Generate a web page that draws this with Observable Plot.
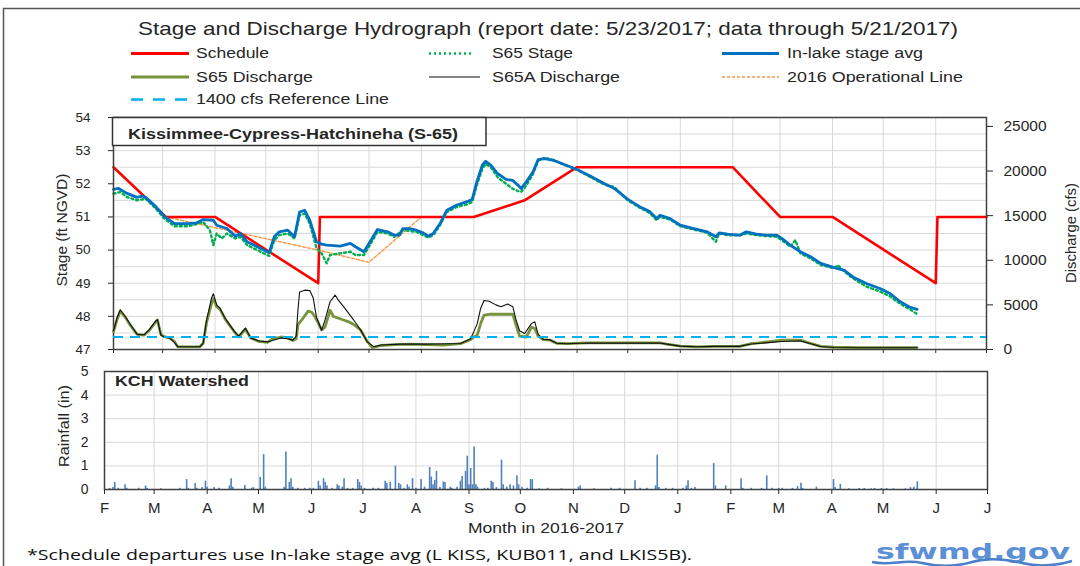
<!DOCTYPE html>
<html><head><meta charset="utf-8">
<script src="https://cdn.jsdelivr.net/npm/d3@7"></script>
<script src="https://cdn.jsdelivr.net/npm/@observablehq/plot@0.6"></script>
<style>
html,body{margin:0;padding:0;background:#fff;}
#page{position:relative;width:1080px;height:566px;overflow:hidden;background:#fff;font-family:"Liberation Sans",Arial,sans-serif;}
#page > svg{position:absolute;left:0;}
</style></head>
<body><div id="page"></div>
<script>
// ---------------- DATA (x = days after 2016-02-01) ----------------
const startDate = "2016-02-01";
const endDate = "2017-07-01";
const monthTickDates = ["2016-02-01","2016-03-01","2016-04-01","2016-05-01","2016-06-01","2016-07-01","2016-08-01","2016-09-01","2016-10-01","2016-11-01","2016-12-01","2017-01-01","2017-02-01","2017-03-01","2017-04-01","2017-05-01","2017-06-01","2017-07-01"];
const monthLabels = ["F","M","A","M","J","J","A","S","O","N","D","J","F","M","A","M","J","J"];
const stageTicks = [47,48,49,50,51,52,53,54];
const stageGrid = [47.5,48,48.5,49,49.5,50,50.5,51,51.5,52,52.5,53,53.5];
const dischargeTicks = [0,5000,10000,15000,20000,25000];
const rainTicks = [0,1,2,3,4,5];
const refCfs = 1400;

const schedule = [[0,52.5],[31,51.0],[60,51.0],[121,49.0],[122,51.0],[213,51.0],[243,51.5],[274,52.5],[366,52.5],[394,51.0],[425,51.0],[486,49.0],[487,51.0],[516,51.0]];
const operational2016 = [[31,51.0],[121,50.0],[151,49.63],[182,51.0]];

const inlakeStage = [[0,51.83],[3,51.86],[8,51.71],[14,51.59],[17,51.63],[19,51.59],[25,51.31],[30,51.02],[36,50.80],[44,50.80],[49,50.82],[53,50.92],[59,50.90],[61,50.75],[67,50.65],[72,50.42],[75,50.50],[79,50.25],[85,50.10],[92,49.92],[95,50.40],[98,50.55],[103,50.60],[107,50.40],[110,51.15],[113,51.20],[116,50.90],[120,50.25],[123,50.18],[126,50.15],[134,50.12],[140,50.2],[143,50.1],[148,49.95],[151,50.2],[156,50.62],[162,50.55],[166,50.45],[169,50.45],[171,50.65],[175,50.65],[179,50.6],[183,50.52],[186,50.42],[189,50.5],[193,50.8],[197,51.2],[203,51.36],[209,51.46],[212,51.53],[215,52.1],[218,52.56],[220,52.68],[223,52.56],[227,52.31],[232,52.13],[236,52.1],[239,51.96],[241,51.86],[244,52.06],[248,52.36],[251,52.73],[255,52.76],[260,52.71],[266,52.59],[274,52.43],[282,52.23],[290,52.01],[296,51.86],[304,51.53],[311,51.31],[317,51.16],[321,50.95],[323,51.05],[329,50.95],[335,50.75],[343,50.65],[351,50.55],[356,50.4],[358,50.52],[363,50.48],[370,50.45],[374,50.55],[380,50.48],[386,50.45],[392,50.45],[395,50.35],[400,50.15],[406,49.95],[412,49.8],[418,49.6],[426,49.47],[432,49.39],[437,49.19],[445,48.99],[453,48.84],[459,48.69],[465,48.44],[471,48.27],[475,48.21]];

const s65Stage = [[0,51.7],[4,51.75],[8,51.6],[14,51.5],[19,51.55],[25,51.25],[30,50.95],[36,50.72],[44,50.72],[49,50.78],[53,50.85],[57,50.6],[59,50.15],[61,50.5],[64,50.35],[67,50.5],[72,50.35],[75,50.4],[79,50.15],[85,50.0],[92,49.82],[95,50.3],[98,50.45],[103,50.5],[107,50.35],[110,51.05],[113,51.1],[116,50.8],[120,50.05],[123,49.9],[126,49.6],[128,49.85],[134,49.9],[140,49.95],[143,49.85],[148,49.85],[151,50.1],[156,50.55],[162,50.5],[166,50.4],[171,50.6],[179,50.55],[186,50.38],[189,50.45],[193,50.75],[197,51.15],[203,51.3],[209,51.38],[212,51.45],[215,52.0],[218,52.45],[220,52.6],[223,52.5],[227,52.2],[232,52.0],[236,51.85],[239,51.78],[241,51.76],[244,51.95],[248,52.3],[251,52.7],[255,52.78],[260,52.72],[266,52.58],[274,52.42],[282,52.2],[290,51.98],[296,51.9],[304,51.5],[311,51.28],[317,51.12],[321,50.9],[323,51.0],[329,50.92],[335,50.72],[343,50.62],[351,50.52],[356,50.25],[358,50.5],[363,50.45],[370,50.44],[374,50.5],[380,50.45],[386,50.42],[392,50.4],[395,50.3],[400,50.1],[403,50.3],[406,49.9],[412,49.75],[418,49.55],[426,49.45],[428,49.55],[432,49.35],[437,49.15],[445,48.9],[453,48.75],[459,48.6],[465,48.38],[471,48.2],[475,48.07]];

const s65Discharge = [[0,2000],[2,3300],[4,4300],[7,3600],[10,2700],[14,1700],[18,1600],[21,2100],[25,3100],[26,3300],[28,1700],[30,1450],[33,1300],[36,900],[38,300],[45,300],[51,300],[53,700],[55,3000],[58,5200],[59,5700],[61,4800],[63,4500],[66,3400],[71,2100],[74,1400],[78,2300],[81,1300],[86,900],[91,800],[94,1200],[99,1400],[103,1300],[106,1000],[108,1200],[109,2800],[112,3500],[115,4300],[117,4200],[119,3700],[121,3000],[123,2200],[125,2500],[128,4400],[130,3700],[133,3500],[136,3300],[139,3100],[142,2800],[146,2200],[150,900],[153,200],[158,450],[166,550],[175,600],[185,550],[195,500],[205,650],[211,1100],[213,1400],[215,1600],[217,2900],[219,3850],[222,3950],[229,3950],[236,3950],[238,2700],[240,1500],[244,1400],[247,2500],[249,2350],[251,1500],[254,1100],[258,1050],[262,700],[268,650],[280,750],[300,750],[323,750],[327,600],[335,380],[345,300],[355,350],[370,350],[377,650],[389,900],[395,1050],[406,1050],[410,800],[418,350],[426,250],[441,220],[475,220]];

const s65aDischarge = [[0,2100],[2,3500],[4,4450],[7,3700],[10,2800],[14,1700],[18,1650],[21,2200],[25,3200],[26,3350],[28,1600],[30,1400],[33,1300],[36,800],[38,300],[45,300],[51,300],[53,700],[55,3300],[58,5800],[59,6250],[61,5000],[63,4600],[66,3500],[71,2150],[74,1500],[78,2400],[81,1300],[86,950],[91,850],[94,1000],[99,1300],[103,1200],[106,1050],[108,1500],[109,4400],[110,6450],[113,6650],[116,6600],[118,5800],[120,3600],[123,2150],[125,3300],[128,5350],[131,6100],[133,5500],[136,4800],[139,4050],[142,3300],[146,2200],[150,850],[154,300],[158,500],[170,600],[185,600],[205,670],[211,1200],[213,2000],[215,2900],[217,4600],[219,5500],[222,5400],[226,5000],[229,4800],[233,5100],[236,4800],[238,3300],[240,2100],[243,1800],[247,2900],[249,3100],[251,1700],[254,1150],[258,1100],[262,700],[268,650],[280,720],[300,720],[323,720],[327,600],[335,380],[345,300],[355,350],[370,350],[377,620],[389,800],[395,900],[406,950],[410,750],[418,330],[426,220],[441,200],[475,200]];

const rainfall = [[3,0.05],[5,0.08],[6,0.3],[8,0.05],[12,0.2],[13,0.05],[20,0.05],[24,0.15],[25,0.05],[33,0.03],[44,0.05],[48,0.42],[49,0.05],[53,0.25],[54,0.05],[57,0.08],[59,0.35],[60,0.1],[64,0.08],[67,0.05],[73,0.15],[74,0.46],[75,0.1],[82,0.17],[86,0.05],[87,0.08],[91,0.51],[93,1.48],[94,0.1],[105,0.1],[106,1.59],[108,0.3],[109,0.46],[110,0.1],[113,0.05],[117,0.05],[120,0.05],[122,0.05],[125,0.35],[126,0.15],[128,0.46],[129,0.3],[130,0.15],[133,0.05],[136,0.2],[137,0.15],[139,0.1],[140,0.46],[142,0.05],[145,0.05],[148,0.42],[149,0.3],[150,0.15],[152,0.05],[157,0.05],[160,0.05],[164,0.35],[165,0.25],[167,0.3],[170,0.99],[172,0.25],[173,0.2],[175,0.05],[177,0.2],[178,0.1],[180,0.46],[182,0.05],[185,0.42],[187,0.1],[190,0.93],[191,0.53],[192,0.2],[193,0.39],[194,0.77],[196,0.1],[198,0.32],[199,0.3],[202,0.1],[203,0.05],[206,0.1],[208,0.35],[209,0.55],[211,0.77],[212,1.41],[213,0.2],[214,0.89],[215,0.2],[216,1.8],[217,0.2],[218,0.1],[222,0.05],[224,0.05],[226,0.35],[227,0.3],[229,0.08],[232,1.24],[233,0.2],[235,0.1],[237,0.2],[239,0.15],[241,0.58],[242,0.2],[244,0.1],[247,0.05],[249,0.42],[250,0.42],[254,0.03],[259,0.05],[267,0.03],[277,0.1],[278,0.15],[286,0.03],[296,0.05],[301,0.05],[310,0.37],[313,0.05],[317,0.05],[322,0.15],[323,1.45],[324,0.08],[328,0.05],[332,0.05],[338,0.05],[340,0.15],[341,0.37],[343,0.05],[345,0.08],[356,1.1],[357,0.15],[363,0.15],[372,0.46],[373,0.05],[378,0.05],[384,0.05],[387,0.58],[390,0.05],[394,0.05],[396,0.05],[402,0.05],[405,0.12],[407,0.27],[408,0.05],[416,0.1],[426,0.42],[427,0.08],[430,0.22],[435,0.03],[441,0.04],[444,0.04],[448,0.03],[450,0.04],[454,0.04],[457,0.04],[461,0.03],[468,0.03],[471,0.08],[473,0.1],[475,0.32]];

// ---------------- helpers ----------------
const t0 = new Date(startDate);
const dateOf = d => new Date(t0.getTime() + d * 864e5);
const rows = arr => arr.map(([d, v]) => ({date: dateOf(d), v}));
const monthTicks = monthTickDates.map(s => new Date(s));
const monthLabel = d => monthLabels[monthTicks.findIndex(t => +t === +d)];
const FONT = '"Liberation Sans", Arial, sans-serif';
const INK = "#262626";
const GRID = "#d9d9d9";
const FRAME = "#404040";
const xScale = {type: "utc", domain: [t0, new Date(endDate)], label: null};
const page = document.getElementById("page");

// ---------------- top panel: stage (left axis) ----------------
const plotStage = Plot.plot({
  width: 1080, height: 260,
  marginLeft: 113, marginRight: 94, marginTop: 12, marginBottom: 16,
  x: {...xScale, axis: null},
  y: {domain: [47, 54], label: null},
  style: {background: "transparent", fontFamily: FONT, fontSize: "13.5px", color: INK},
  marks: [
    Plot.gridY(stageGrid, {stroke: GRID, strokeOpacity: 1}),
    Plot.gridX(monthTicks, {stroke: GRID, strokeOpacity: 1}),
    Plot.ruleX(monthTicks, {x: d => d, y1: 47, y2: 46.88, stroke: INK}),
    Plot.line(rows(operational2016), {x: "date", y: "v", stroke: "#F79646", strokeWidth: 1.4, strokeDasharray: "3,2"}),
    Plot.line(rows(schedule), {x: "date", y: "v", stroke: "#FF0000", strokeWidth: 2.6}),
    Plot.line(rows(s65Stage), {x: "date", y: "v", stroke: "#00B050", strokeWidth: 2.4, strokeDasharray: "2,3"}),
    Plot.line(rows(inlakeStage), {x: "date", y: "v", stroke: "#0070C0", strokeWidth: 2.8}),
    Plot.axisY(stageTicks, {anchor: "left", tickSize: 5, tickPadding: 18, label: null}),
    Plot.frame({stroke: FRAME, strokeWidth: 1.5})
  ]
});
plotStage.style.top = "105px";
page.appendChild(plotStage);

// ---------------- top panel: discharge (right axis) ----------------
const plotQ = Plot.plot({
  width: 1080, height: 260,
  marginLeft: 113, marginRight: 94, marginTop: 12, marginBottom: 16,
  x: {...xScale, axis: null},
  y: {domain: [0, 26000], label: null},
  style: {background: "transparent", fontFamily: FONT, fontSize: "15.5px", color: INK},
  marks: [
    Plot.line(rows(s65Discharge), {x: "date", y: "v", stroke: "#77933C", strokeWidth: 2.8}),
    Plot.line(rows(s65aDischarge), {x: "date", y: "v", stroke: "#111", strokeWidth: 1.1}),
    Plot.ruleY([refCfs], {stroke: "#00B0F0", strokeWidth: 2.2, strokeDasharray: "10,7"}),
    Plot.axisY(dischargeTicks, {anchor: "right", tickSize: 6, tickPadding: 11, tickFormat: d => String(d), label: null})
  ]
});
plotQ.style.top = "105px";
page.appendChild(plotQ);

// ---------------- rainfall panel ----------------
const plotRain = Plot.plot({
  width: 1080, height: 185,
  marginLeft: 104, marginRight: 93, marginTop: 16, marginBottom: 51,
  x: xScale,
  y: {domain: [0, 5], label: null},
  style: {background: "transparent", fontFamily: FONT, fontSize: "14px", color: INK},
  marks: [
    Plot.gridY([1, 2, 3, 4], {stroke: GRID, strokeOpacity: 1}),
    Plot.gridX(monthTicks, {stroke: GRID, strokeOpacity: 1}),
    Plot.ruleX(rows(rainfall), {x: "date", y1: 0, y2: "v", stroke: "#4F81BD", strokeWidth: 1.6}),
    Plot.axisY(rainTicks, {anchor: "left", tickSize: 0, tickPadding: 16, label: null}),
    Plot.axisX(monthTicks, {anchor: "bottom", tickSize: 5, tickPadding: 8, tickFormat: monthLabel, fontSize: 15, label: null}),
    Plot.frame({stroke: FRAME, strokeWidth: 1.5})
  ]
});
plotRain.style.top = "355px";
page.appendChild(plotRain);

// ---------------- titles, legend, labels ----------------
const svg = d3.select(page).append("svg")
  .attr("width", 1080).attr("height", 566)
  .style("top", "0px").style("pointer-events", "none")
  .attr("font-family", FONT);

svg.append("path").attr("d", "M3.5,566V8.5H1080").attr("fill", "none").attr("stroke", "#555").attr("stroke-width", 1.5);

function text(x, y, s, o = {}) {
  const t = svg.append("text").attr("x", x).attr("y", y).text(s)
    .attr("font-size", o.size || 15).attr("fill", o.fill || INK)
    .attr("font-weight", o.weight || "normal")
    .attr("text-anchor", o.anchor || "start");
  if (o.family) t.attr("font-family", o.family);
  if (o.len) t.attr("textLength", o.len).attr("lengthAdjust", "spacingAndGlyphs");
  if (o.rotate) t.attr("transform", `rotate(${o.rotate},${x},${y})`).attr("dominant-baseline", "central");
  return t;
}
function swatch(x1, x2, y, stroke, width, dash) {
  const l = svg.append("line").attr("x1", x1).attr("x2", x2).attr("y1", y).attr("y2", y)
    .attr("stroke", stroke).attr("stroke-width", width);
  if (dash) l.attr("stroke-dasharray", dash);
}

text(138, 35, "Stage and Discharge Hydrograph (report date: 5/23/2017; data through 5/21/2017)", {size: 19, len: 820});

// legend
swatch(131, 189, 53.5, "#FF0000", 3);
text(196, 58, "Schedule", {size: 15.5, len: 73});
swatch(429, 473, 53.5, "#00B050", 2.4, "2,3");
text(492, 58, "S65 Stage", {size: 15.5, len: 81});
swatch(722, 779, 53.5, "#0070C0", 3);
text(787, 58, "In-lake stage avg", {size: 15.5, len: 136});

swatch(131, 189, 77, "#77933C", 3);
text(196, 81.5, "S65 Discharge", {size: 15.5, len: 117});
swatch(429, 480, 77, "#111", 1.2);
text(492, 81.5, "S65A Discharge", {size: 15.5, len: 128});
swatch(722, 779, 77, "#F79646", 1.4, "3,2");
text(787, 81.5, "2016 Operational Line", {size: 15.5, len: 176});

swatch(131, 189, 99.5, "#00B0F0", 2.4, "12,10");
text(196, 104, "1400 cfs Reference Line", {size: 15.5, len: 193});

// panel label box
svg.append("rect").attr("x", 112.5).attr("y", 117.5).attr("width", 373.5).attr("height", 28)
  .attr("fill", "#fff").attr("stroke", "#333").attr("stroke-width", 1.5);
text(128, 139, "Kissimmee-Cypress-Hatchineha (S-65)", {size: 14.5, weight: "bold", len: 330});
text(115, 386, "KCH Watershed", {size: 15, weight: "bold", len: 134});

// axis titles
text(61, 230, "Stage (ft NGVD)", {size: 15, rotate: -90, anchor: "middle", len: 113});
text(1070, 233, "Discharge (cfs)", {size: 15, rotate: -90, anchor: "middle", len: 100});
text(63, 426, "Rainfall (in)", {size: 15, rotate: -90, anchor: "middle", len: 82});
text(468, 533, "Month in 2016-2017", {size: 14.5, len: 156});

// footnote and logo
text(27, 560, "*Schedule departures use In-lake stage avg (L KISS, KUB011, and LKIS5B).", {size: 15, family: '"Open Sans", sans-serif', len: 665, fill: "#111"});
text(876, 559, "sfwmd.gov", {size: 21, weight: "bold", family: '"DejaVu Sans", sans-serif', fill: "#5B8FD6", len: 194});
svg.append("path")
  .attr("d", "M872,562 C890,566 905,559 922,563 S955,567 972,562 S1005,559 1022,563 S1055,566 1072,561")
  .attr("fill", "none").attr("stroke", "#4A7FCC").attr("stroke-width", 2.5);
</script></body></html>
